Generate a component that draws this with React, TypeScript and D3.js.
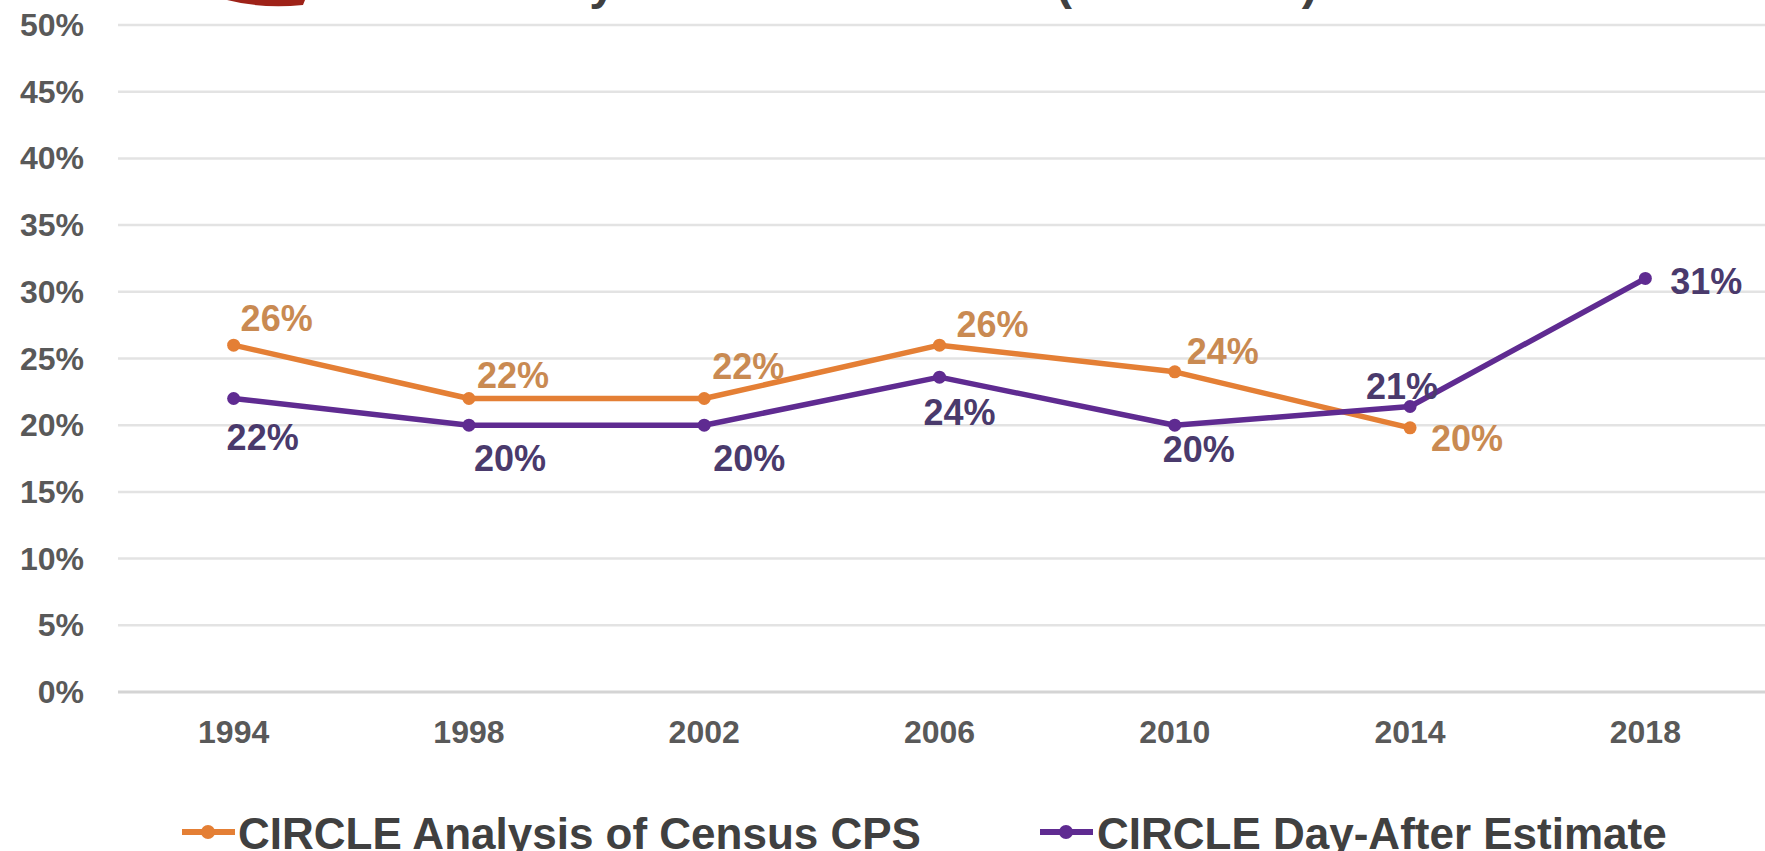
import * as d3 from 'd3';
import React from "react";

const WIDTH = 1765;
const HEIGHT = 851;

// chart data
const years = ['1994', '1998', '2002', '2006', '2010', '2014', '2018'];
const censusCps = [26, 22, 22, 26, 24, 19.8];
const dayAfter = [22, 20, 20, 23.6, 20, 21.4, 31];
const yTicks = [0, 5, 10, 15, 20, 25, 30, 35, 40, 45, 50];
const seriesNames = ['CIRCLE Analysis of Census CPS', 'CIRCLE Day-After Estimate'];

// label placement (offset of label centre from its point), like the hand-placed excel labels
const cpsLabelOffsets = [[43, -27], [44, -23], [44, -32], [53, -21], [48, -20], [57, 11]];
const dayLabelOffsets = [[29, 39], [41, 33], [45, 33], [20, 35], [24, 24], [-8, -20], [61, 3]];

const ORANGE = '#E47F35';
const PURPLE = '#5F2B91';
const ORANGE_TEXT = '#C98A52';
const PURPLE_TEXT = '#4A3A6C';
const FONT = '"Liberation Sans", Arial, sans-serif';

const x = d3.scaleBand().domain(years).range([116, 1763]);
const y = d3.scaleLinear().domain([0, 50]).range([692, 25]);
const cx = (i: number) => (x(years[i]) as number) + x.bandwidth() / 2;

const line = d3.line<number>()
    .x((_, i) => cx(i))
    .y(d => y(d));

const App: React.FC = () => {
    const series = [
        {values: censusCps, color: ORANGE, text: ORANGE_TEXT, offsets: cpsLabelOffsets},
        {values: dayAfter, color: PURPLE, text: PURPLE_TEXT, offsets: dayLabelOffsets},
    ];

    return (
        <svg width={WIDTH} height={HEIGHT}
             style={{position: 'absolute', left: 0, top: 0, display: 'block', background: '#fff'}}
             fontFamily={FONT}>
            {/* bottom edge of the cropped title */}
            <path d="M227,0 Q262,9 303,5 L305,0 Z" fill="#9E2218"/>
            <text x={560} y={-1} fontSize={48} fontWeight="bold" fill="#404040">
                by Midterm Elections (1994-2018)
            </text>

            {/* grid */}
            {yTicks.map(t => (
                <g key={t}>
                    <line x1={118} x2={WIDTH} y1={y(t)} y2={y(t)}
                          stroke={t === 0 ? '#D4D4D4' : '#E3E3E3'} strokeWidth={t === 0 ? 3 : 2.5}/>
                    <text x={84} y={y(t)} textAnchor="end" dominantBaseline="central"
                          fontSize={32} fontWeight="bold" fill="#595959">{t}%</text>
                </g>
            ))}

            {years.map((yr, i) => (
                <text key={yr} x={cx(i)} y={732} textAnchor="middle" dominantBaseline="central"
                      fontSize={32} fontWeight="bold" fill="#595959">{yr}</text>
            ))}

            {series.map((s, si) => (
                <g key={si}>
                    <path d={line(s.values) || ''} fill="none" stroke={s.color} strokeWidth={5.5}
                          strokeLinejoin="round"/>
                    {s.values.map((v, i) => (
                        <circle key={i} cx={cx(i)} cy={y(v)} r={6.5} fill={s.color}/>
                    ))}
                </g>
            ))}

            {series.map((s, si) => (
                <g key={'l' + si}>
                    {s.values.map((v, i) => (
                        <text key={i} x={cx(i) + s.offsets[i][0]} y={y(v) + s.offsets[i][1]}
                              textAnchor="middle" dominantBaseline="central"
                              fontSize={36} fontWeight="bold" fill={s.text}>{Math.round(v)}%</text>
                    ))}
                </g>
            ))}

            {/* legend */}
            {[{x0: 182, tx: 238}, {x0: 1040, tx: 1097}].map((l, i) => (
                <g key={i}>
                    <line x1={l.x0} x2={l.x0 + 53} y1={832} y2={832} stroke={series[i].color} strokeWidth={6}/>
                    <circle cx={l.x0 + 26} cy={832} r={7} fill={series[i].color}/>
                    <text x={l.tx} y={849} fontSize={44} fontWeight="bold" fill="#404040">{seriesNames[i]}</text>
                </g>
            ))}
        </svg>
    );
};

export default App;
